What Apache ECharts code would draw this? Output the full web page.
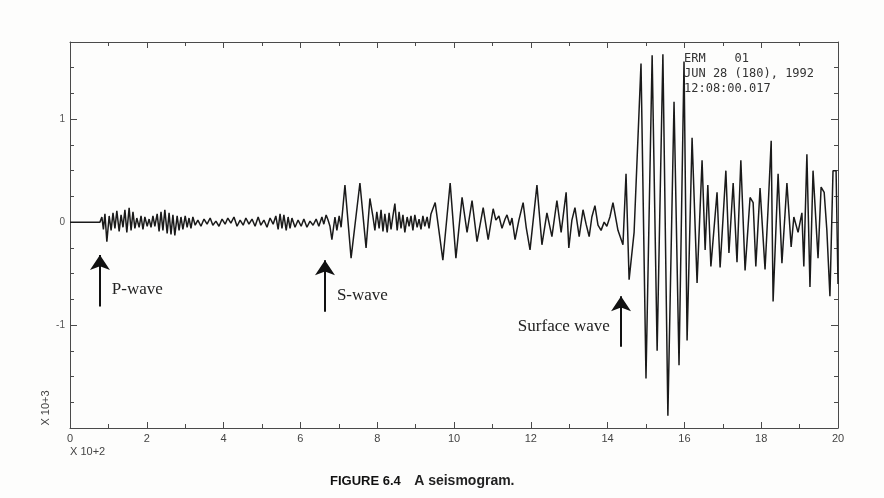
<!DOCTYPE html>
<html>
<head>
<meta charset="utf-8">
<script src="https://cdn.jsdelivr.net/npm/echarts@6/dist/echarts.min.js"></script>
<style>
html,body{margin:0;padding:0;background:#fdfdfc;}
#chart{width:884px;height:498px;}
</style>
</head>
<body>
<div id="chart"></div>
<script>
// ---- Data (time in units of 10^2, amplitude in units of 10^3) ----
const preEventTime = [0, 0.78];
const preEventAmp  = [0, 0];

const pWaveTime = [0.83,0.87,0.91,0.96,1.02,1.07,1.12,1.17,1.22,1.28,
  1.33,1.38,1.43,1.48,1.54,1.59,1.64,1.69,1.74,1.80,
  1.85,1.90,1.95,2.01,2.06,2.11,2.16,2.21,2.27,2.32,
  2.37,2.42,2.47,2.53,2.58,2.63,2.68,2.73,2.79,2.84,
  2.89,2.94,3.00,3.05,3.10,3.15,3.20,3.26,
  3.33,3.41,3.49,3.57,3.65,3.72,3.80,3.88,3.96,4.04,
  4.11,4.19,4.27,4.35,4.43,4.51,4.58,4.66,4.74,4.82,
  4.90,4.97,5.05,5.13,5.21,5.29,5.36,
  5.42,5.47,5.52,5.57,5.63,5.68,5.73,5.78,
  5.86,5.94,6.02,6.09,6.17,6.25,6.33,6.41,6.48,6.56,
  6.61,6.67,6.72,6.77];
const pWaveAmp = [0.05,-0.07,0.08,-0.19,0.06,-0.08,0.09,-0.06,0.11,-0.09,
  0.07,-0.05,0.12,-0.10,0.14,-0.08,0.10,-0.06,0.04,-0.05,
  0.06,-0.07,0.05,-0.04,0.03,-0.05,0.06,-0.04,0.08,-0.09,
  0.10,-0.08,0.12,-0.11,0.09,-0.12,0.07,-0.13,0.06,-0.08,
  0.05,-0.07,0.06,-0.05,0.04,-0.06,0.05,-0.03,
  0.02,-0.04,0.03,-0.02,0.04,-0.03,0.01,-0.04,0.03,-0.02,
  0.04,-0.01,0.05,-0.04,0.02,-0.03,0.04,-0.02,0.03,-0.04,
  0.05,-0.03,0.02,-0.05,0.04,-0.02,0.06,
  -0.07,0.08,-0.06,0.07,-0.08,0.05,-0.06,0.04,
  -0.05,0.02,-0.04,0.03,-0.05,0.01,-0.03,0.03,-0.04,0.05,
  -0.02,0.07,0.02,-0.04];

const sWaveTime = [6.82,6.90,6.95,7.01,7.06,7.16,7.32,7.55,7.71,7.81,
  7.89,7.94,7.99,8.05,8.10,8.15,8.20,8.26,8.31,8.36,
  8.41,8.46,8.52,8.57,8.62,8.67,8.72,8.78,8.83,8.88,
  8.93,8.98,9.04,9.09,9.14,9.19,9.24,9.30,9.35,9.40,
  9.51,9.71,9.90,10.05,10.21,10.34,10.47,10.60,10.76,10.89,
  11.02,11.09,11.17,11.25,11.33,11.38,11.46,11.51,11.59,11.69,
  11.80,11.88,11.98,12.16,12.29,12.42,12.55,12.68,12.79,12.92,
  12.99,13.07,13.15,13.26,13.36,13.44,13.52,13.59,13.67,13.75,
  13.83,13.91,13.98,14.06,14.14,14.27,14.40,14.48,14.56,14.69];
const sWaveAmp = [-0.17,0.05,-0.08,0.06,-0.05,0.36,-0.35,0.38,-0.25,0.23,
  0.05,-0.08,0.10,-0.06,0.12,-0.09,0.08,-0.10,0.09,-0.07,
  0.06,0.18,-0.08,0.10,-0.06,0.07,-0.10,0.05,-0.04,0.06,
  -0.08,0.07,-0.05,0.03,-0.07,0.06,-0.04,0.05,-0.06,0.08,
  0.19,-0.37,0.38,-0.35,0.24,-0.10,0.21,-0.19,0.14,-0.17,
  0.13,0.02,0.06,-0.06,0.03,0.07,-0.03,0.04,-0.17,0.02,
  0.19,-0.05,-0.27,0.36,-0.22,0.09,-0.14,0.21,-0.10,0.29,
  -0.25,0.02,0.14,-0.14,0.12,-0.02,-0.14,0.05,0.16,-0.03,
  -0.08,0.00,-0.04,0.05,0.19,-0.08,-0.22,0.47,-0.56,-0.10];

const surfaceTime = [14.87,15.00,15.16,15.29,15.44,15.57,15.73,15.86,15.99,16.07,
  16.20,16.33,16.46,16.54,16.61,16.69,16.85,16.93,17.08,17.16,
  17.27,17.37,17.47,17.58,17.71,17.79,17.86,17.97,18.10,18.18,
  18.26,18.31,18.44,18.54,18.67,18.78,18.85,18.96,19.06,19.11,
  19.19,19.27,19.35,19.48,19.56,19.64,19.71,19.79,19.87,19.95,
  20.00];
const surfaceAmp = [1.54,-1.52,1.62,-1.25,1.63,-1.88,1.17,-1.39,1.56,-1.15,
  0.82,-0.59,0.60,-0.27,0.36,-0.43,0.29,-0.44,0.50,-0.30,
  0.38,-0.39,0.60,-0.47,0.24,0.19,-0.43,0.33,-0.46,0.14,
  0.79,-0.77,0.47,-0.40,0.38,-0.24,0.05,-0.10,0.09,-0.43,
  0.66,-0.63,0.50,-0.35,0.34,0.29,-0.08,-0.72,0.50,0.50,
  -0.60];

const xTickLabels = ['0','2','4','6','8','10','12','14','16','18','20'];
const yTickLabels = {'-1':'-1','0':'0','1':'1'};

// Arrival annotations
const arrivalNames  = ['P-wave','S-wave','Surface wave'];
const arrivalTime   = [0.78, 6.64, 14.35];
const arrowBase     = [-0.82, -0.87, -1.21];
const arrowTip      = [-0.32, -0.37, -0.72];
const labelTime     = [1.09, 6.95, 14.06];
const labelAmp      = [-0.65, -0.71, -1.01];
const labelSide     = ['right','right','left'];

const headerLines = ['ERM    01', 'JUN 28 (180), 1992', '12:08:00.017'];

// ---- build series data ----
function zip(t, a){ return t.map((v,i)=>[v,a[i]]); }
const trace = [].concat(
  zip(preEventTime, preEventAmp),
  zip(pWaveTime, pWaveAmp),
  zip(sWaveTime, sWaveAmp),
  zip(surfaceTime, surfaceAmp)
);

const axisColor = '#4a4a4a';
function xAxisCfg(pos, labels){
  return {
    type:'value', min:0, max:20, interval:2, position:pos,
    axisLine:{show:true, onZero:false, lineStyle:{color:axisColor, width:1}},
    axisTick:{show:true, inside:true, length:6, lineStyle:{color:axisColor}},
    minorTick:{show:true, splitNumber:2, length:4, lineStyle:{color:axisColor}},
    splitLine:{show:false},
    axisLabel:{show:labels, color:'#444', fontSize:11, margin:5,
      fontFamily:'Liberation Sans',
      formatter:(v)=>xTickLabels[Math.round(v/2)] || ''}
  };
}
function yAxisCfg(pos, labels){
  return {
    type:'value', min:-2, max:1.75, interval:1, position:pos,
    axisLine:{show:true, onZero:false, lineStyle:{color:axisColor, width:1}},
    axisTick:{show:true, inside:true, length:7, lineStyle:{color:axisColor}},
    minorTick:{show:true, splitNumber:4, length:4, lineStyle:{color:axisColor}},
    splitLine:{show:false},
    axisLabel:{show:labels, color:'#555', fontSize:10, margin:5,
      fontFamily:'Liberation Sans',
      formatter:(v)=>{ const k=String(Math.round(v*100)/100); return yTickLabels[k] || ''; }}
  };
}

const chart = echarts.init(document.getElementById('chart'), null, {renderer:'canvas'});
chart.setOption({
  backgroundColor:'#fdfdfc',
  animation:false,
  grid:{left:70, right:46, top:42, bottom:70},
  xAxis:[xAxisCfg('bottom', true), xAxisCfg('top', false)],
  yAxis:[yAxisCfg('left', true), yAxisCfg('right', false)],
  series:[{
    type:'line',
    data:trace,
    showSymbol:false,
    symbol:'none',
    lineStyle:{color:'#1a1a1a', width:1.5},
    silent:true,
    markLine:{
      silent:true,
      symbol:['none','arrow'],
      symbolSize:15,
      lineStyle:{color:'#111', width:2, type:'solid'},
      itemStyle:{color:'#111'},
      label:{show:false},
      emphasis:{disabled:true},
      data: arrivalTime.map((t,i)=>[{coord:[t, arrowBase[i]]},{coord:[t, arrowTip[i]]}])
    },
    markPoint:{
      silent:true,
      symbol:'circle',
      symbolSize:0,
      data: arrivalNames.map((n,i)=>({
        coord:[labelTime[i], labelAmp[i]],
        label:{show:true, formatter:n, position:labelSide[i], distance:0,
          fontFamily:'Liberation Serif', fontSize:17, color:'#222'}
      }))
    }
  }],
  graphic:[
    {type:'text', left:684, top:51, style:{text:headerLines.join('\n'),
      font:'12px "DejaVu Sans Mono"', lineHeight:15, fill:'#333'}},
    {type:'text', x:46, y:408, rotation:Math.PI/2, style:{text:'X 10+3',
      font:'11px "Liberation Sans"', fill:'#444', align:'center', verticalAlign:'middle'}},
    {type:'text', left:70, top:446, style:{text:'X 10+2',
      font:'11px "Liberation Sans"', fill:'#444'}},
    {type:'text', left:330, top:474, style:{
      rich:{
        a:{font:'bold 13px "Liberation Sans"', fill:'#111'},
        b:{font:'bold 14px "Liberation Sans"', fill:'#222'}
      },
      text:'{a|FIGURE 6.4}    {b|A seismogram.}'}}
  ]
});
</script>
</body>
</html>
